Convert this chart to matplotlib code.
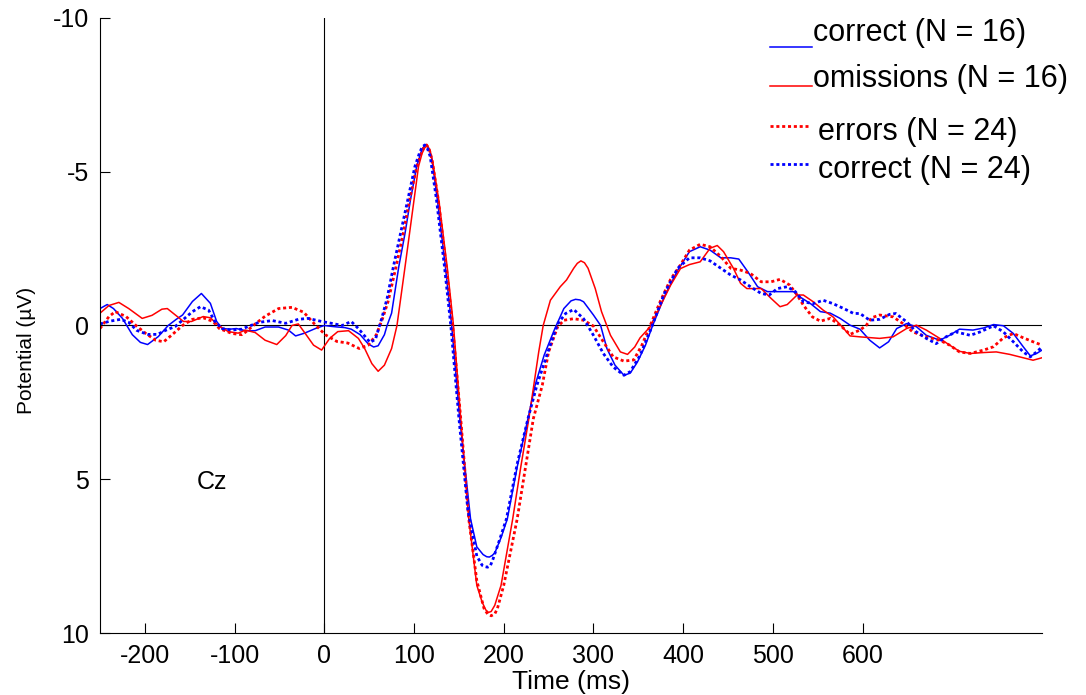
import matplotlib
matplotlib.use("Agg")
import matplotlib.pyplot as plt

plt.rcParams['font.family'] = ['Liberation Sans', 'DejaVu Sans']
plt.rcParams['axes.unicode_minus'] = False

# Grand-average ERP at Cz (µV), negative plotted upwards
t_corr16 = [-250, -242, -235, -225, -214, -205, -197, -185, -174, -165,
            -158, -147, -137, -127, -120, -114, -105, -98, -88, -77,
            -66, -51, -40, -32, -22, -10, 0, 8, 15, 23,
            30, 40, 49, 55, 60, 67, 70, 75, 83, 90,
            96, 103, 108, 111, 114, 117, 120, 126, 135, 142,
            151, 163, 170, 177, 181, 184, 187, 190, 197, 204,
            215, 227, 235, 245, 256, 267, 275, 280, 285, 289,
            300, 308, 315, 324, 334, 341, 349, 358, 366, 379,
            394, 407, 419, 430, 442, 453, 462, 472, 483, 494,
            505, 523, 530, 542, 553, 564, 575, 586, 597, 608,
            619, 629, 638, 649, 660, 671, 686, 697, 708, 723,
            735, 746, 757, 768, 779, 787, 794, 800]
v_corr16 = [-0.55, -0.68, -0.55, -0.23, 0.3, 0.55, 0.62, 0.36, 0.0, -0.2,
            -0.34, -0.78, -1.04, -0.72, -0.13, 0.1, 0.12, 0.1, 0.17, 0.17,
            0.05, 0.05, 0.15, 0.34, 0.25, 0.1, 0.0, 0.03, 0.05, 0.07,
            0.12, 0.3, 0.6, 0.7, 0.66, 0.3, 0.0, -0.4, -1.91, -3.0,
            -4.08, -5.17, -5.65, -5.82, -5.87, -5.72, -5.4, -4.1, -1.9, 0.0,
            3.03, 6.29, 7.2, 7.45, 7.52, 7.53, 7.48, 7.4, 6.9, 6.29,
            4.6, 3.03, 1.94, 0.97, 0.17, -0.55, -0.8, -0.85, -0.83, -0.77,
            -0.34, 0.0, 0.75, 1.29, 1.62, 1.55, 1.19, 0.64, 0.0, -0.93,
            -1.8, -2.4, -2.56, -2.45, -2.2, -2.2, -2.16, -1.75, -1.26, -1.1,
            -1.1, -1.1, -0.93, -0.71, -0.45, -0.4, -0.23, -0.01, 0.12, 0.48,
            0.73, 0.53, 0.1, -0.06, 0.04, 0.32, 0.48, 0.32, 0.12, 0.15,
            0.08, -0.03, 0.01, 0.26, 0.69, 0.99, 0.91, 0.8]

t_omis16 = [-250, -240, -229, -218, -203, -192, -181, -175, -166, -157,
            -148, -135, -127, -118, -107, -96, -88, -77, -66, -53,
            -43, -36, -29, -22, -12, -3, 6, 15, 27, 38,
            45, 53, 60, 67, 75, 81, 90, 100, 105, 109,
            112, 115, 118, 121, 128, 137, 144, 152, 161, 170,
            176, 180, 183, 186, 190, 197, 210, 219, 228, 239,
            244, 252, 263, 270, 278, 282, 286, 290, 294, 302,
            309, 319, 330, 338, 346, 352, 363, 375, 386, 397,
            407, 419, 430, 438, 445, 456, 464, 471, 487, 498,
            508, 516, 527, 534, 545, 556, 567, 579, 586, 597,
            619, 634, 649, 660, 671, 686, 697, 708, 720, 735,
            749, 764, 779, 790, 800]
v_omis16 = [-0.4, -0.65, -0.75, -0.55, -0.23, -0.33, -0.53, -0.55, -0.34, -0.13,
            -0.13, -0.29, -0.25, 0.0, 0.2, 0.25, 0.15, 0.23, 0.48, 0.62,
            0.33, 0.0, -0.05, 0.23, 0.64, 0.8, 0.42, 0.2, 0.17, 0.42,
            0.75, 1.24, 1.49, 1.29, 0.75, 0.0, -1.91, -4.08, -5.17, -5.6,
            -5.78, -5.85, -5.68, -5.3, -4.0, -1.9, 0.0, 3.0, 6.29, 8.45,
            9.0, 9.25, 9.33, 9.3, 9.1, 8.45, 6.29, 4.6, 3.03, 0.86,
            0.0, -0.82, -1.26, -1.48, -1.86, -2.02, -2.1, -2.04, -1.86, -1.2,
            -0.45, 0.32, 0.86, 0.94, 0.7, 0.4, 0.05, -0.66, -1.31, -1.85,
            -1.98, -2.07, -2.51, -2.6, -2.4, -1.86, -1.37, -1.2, -1.2, -0.88,
            -0.61, -0.68, -0.99, -0.99, -0.77, -0.5, -0.28, 0.1, 0.34, 0.37,
            0.42, 0.37, 0.1, -0.01, 0.15, 0.42, 0.64, 0.84, 0.91, 0.88,
            0.86, 0.94, 1.05, 1.13, 1.05]

t_err24 = [-250, -240, -233, -221, -210, -199, -188, -179, -170, -158,
           -147, -135, -124, -117, -103, -92, -88, -77, -66, -51,
           -36, -23, -11, 1, 14, 26, 39, 49, 58, 65,
           71, 80, 88, 95, 103, 108, 111, 114, 117, 120,
           127, 136, 143, 152, 161, 170, 178, 182, 186, 190,
           193, 200, 215, 233, 243, 250, 260, 267, 278, 289,
           300, 311, 322, 334, 345, 354, 364, 375, 386, 397,
           407, 419, 430, 442, 453, 464, 475, 487, 498, 508,
           519, 527, 534, 544, 553, 564, 575, 586, 597, 604,
           610, 619, 634, 645, 656, 671, 686, 697, 708, 720,
           735, 746, 757, 768, 779, 790, 800]
v_err24 = [0.1, -0.29, -0.45, -0.29, 0.0, 0.26, 0.48, 0.53, 0.31, 0.0,
           -0.2, -0.25, -0.13, 0.1, 0.26, 0.3, 0.22, -0.05, -0.3, -0.55,
           -0.59, -0.43, -0.05, 0.3, 0.52, 0.57, 0.75, 0.64, 0.3, -0.23,
           -0.77, -1.91, -3.0, -4.08, -5.17, -5.6, -5.8, -5.87, -5.72, -5.4,
           -4.1, -1.9, 0.0, 3.0, 6.29, 8.3, 9.2, 9.38, 9.44, 9.38,
           9.2, 8.45, 6.29, 3.03, 1.94, 0.86, 0.05, -0.17, -0.22, -0.17,
           0.02, 0.53, 1.02, 1.16, 1.12, 0.64, -0.05, -0.82, -1.5, -1.97,
           -2.45, -2.64, -2.56, -2.24, -1.86, -1.8, -1.69, -1.42, -1.42, -1.5,
           -1.31, -0.99, -0.66, -0.28, -0.14, -0.23, -0.01, 0.29, 0.15, 0.0,
           -0.25, -0.34, -0.28, -0.06, 0.21, 0.37, 0.48, 0.64, 0.86, 0.91,
           0.8, 0.69, 0.4, 0.26, 0.4, 0.53, 0.64]

t_corr24 = [-250, -239, -227, -218, -209, -197, -186, -177, -166, -157,
            -147, -138, -129, -122, -114, -103, -92, -88, -73, -58,
            -43, -29, -18, -3, 8, 20, 30, 38, 51, 57,
            64, 70, 77, 85, 93, 101, 106, 109, 112, 115,
            118, 125, 134, 141, 150, 160, 170, 176, 179, 182,
            185, 188, 195, 203, 215, 227, 237, 248, 260, 269,
            278, 289, 300, 311, 322, 334, 341, 352, 364, 379,
            394, 407, 419, 430, 442, 453, 464, 475, 487, 496,
            505, 516, 525, 534, 545, 556, 567, 579, 590, 597,
            608, 619, 630, 637, 649, 660, 671, 682, 693, 704,
            720, 731, 746, 757, 768, 779, 787, 794, 800]
v_corr24 = [-0.05, -0.14, -0.2, -0.1, 0.16, 0.29, 0.29, 0.16, 0.03, -0.2,
            -0.45, -0.61, -0.5, -0.13, 0.1, 0.15, 0.12, 0.07, -0.1, -0.16,
            -0.07, -0.2, -0.23, -0.13, -0.07, 0.0, -0.13, 0.1, 0.55, 0.45,
            -0.23, -0.88, -1.91, -3.0, -4.08, -5.17, -5.6, -5.8, -5.87, -5.75,
            -5.5, -4.1, -1.9, 0.0, 3.0, 6.0, 7.5, 7.8, 7.84, 7.86,
            7.82, 7.6, 7.0, 6.29, 4.5, 3.03, 1.94, 0.97, -0.05, -0.39,
            -0.52, -0.22, 0.32, 0.91, 1.35, 1.62, 1.5, 0.97, 0.12, -1.04,
            -1.86, -2.2, -2.2, -2.1, -1.86, -1.64, -1.48, -1.26, -1.04, -0.99,
            -1.2, -1.26, -1.1, -0.77, -0.71, -0.82, -0.71, -0.55, -0.39, -0.39,
            -0.17, -0.2, -0.36, -0.39, -0.12, 0.21, 0.42, 0.59, 0.37, 0.21,
            0.32, 0.21, 0.01, 0.21, 0.53, 0.86, 1.02, 0.86, 0.7]

legend_labels = ['correct (N = 16)', 'omissions (N = 16)',
                 'errors (N = 24)', 'correct (N = 24)']
x_ticks = [-200, -100, 0, 100, 200, 300, 400, 500, 600]
y_ticks = [-10, -5, 0, 5, 10]

BLUE = '#0000ff'
RED = '#ff0000'
DOTS = (0, (1.1, 1.0))

fig = plt.figure(figsize=(10.86, 6.95), dpi=100)
ax = fig.add_axes([0.0921, 0.0892, 0.8674, 0.885])

ax.plot(t_corr16, v_corr16, color=BLUE, lw=1.1)
ax.plot(t_omis16, v_omis16, color=RED, lw=1.1)
ax.plot(t_err24, v_err24, color=RED, lw=2.0, linestyle=DOTS)
ax.plot(t_corr24, v_corr24, color=BLUE, lw=2.0, linestyle=DOTS)

# zero lines
ax.axhline(0, color='black', lw=0.8, zorder=0)
ax.axvline(0, color='black', lw=0.8, zorder=0)

ax.set_xlim(-250, 800)
ax.set_ylim(10, -10)
ax.set_xticks(x_ticks)
ax.set_yticks(y_ticks)
ax.tick_params(direction='in', length=7, width=0.8, labelsize=18, pad=8)
for s in ['top', 'right']:
    ax.spines[s].set_visible(False)
for s in ['left', 'bottom']:
    ax.spines[s].set_linewidth(0.8)

ax.set_xlabel('Time (ms)', fontsize=19, labelpad=1)
ax.set_ylabel('Potential (µV)', fontsize=15)
ax.yaxis.set_label_coords(-0.068, 0.46)

ax.text(-125, 5.1, 'Cz', fontsize=18, ha='center', va='center')

# legend drawn by hand: solid keys sit at the text baseline
tr = ax.transAxes
key_x = [0.711, 0.756]
ax.plot(key_x, [0.953, 0.953], color=BLUE, lw=1.1, transform=tr, clip_on=False)
ax.plot(key_x, [0.889, 0.889], color=RED, lw=1.1, transform=tr, clip_on=False)
ax.plot([0.711, 0.752], [0.825, 0.825], color=RED, lw=2.0, linestyle=DOTS,
        transform=tr, clip_on=False)
ax.plot([0.711, 0.752], [0.763, 0.763], color=BLUE, lw=2.0, linestyle=DOTS,
        transform=tr, clip_on=False)
leg_x = [0.757, 0.757, 0.762, 0.762]
leg_y = [0.976, 0.901, 0.815, 0.753]
for x, y, lab in zip(leg_x, leg_y, legend_labels):
    ax.text(x, y, lab, fontsize=22, ha='left', va='center', transform=tr)

fig.savefig('out.png', dpi=100)
